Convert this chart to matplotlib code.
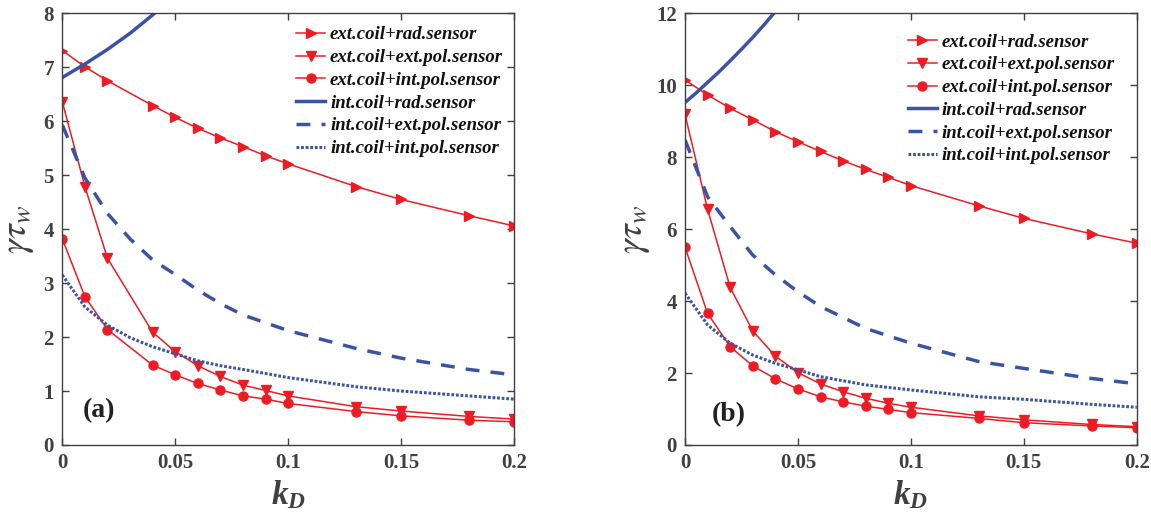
import numpy as np
import matplotlib
matplotlib.use("Agg")
import matplotlib.pyplot as plt

plt.rcParams['font.family'] = 'Liberation Serif'
plt.rcParams['mathtext.fontset'] = 'custom'
plt.rcParams['mathtext.rm'] = 'Liberation Serif:bold'
plt.rcParams['mathtext.it'] = 'Liberation Serif:italic:bold'
plt.rcParams['mathtext.bf'] = 'Liberation Serif:bold'

RED = '#ed1c24'
BLUE = '#3a53a4'
GRAY = '#404040'

labels = ['ext.coil+rad.sensor', 'ext.coil+ext.pol.sensor', 'ext.coil+int.pol.sensor',
          'int.coil+rad.sensor', 'int.coil+ext.pol.sensor', 'int.coil+int.pol.sensor']

# ---- panel (a) ----
kd_a = [0, 0.01, 0.02, 0.04, 0.05, 0.06, 0.07, 0.08, 0.09, 0.1, 0.13, 0.15, 0.18, 0.2]
ext_rad_a = [7.31, 7.01, 6.75, 6.29, 6.07, 5.87, 5.69, 5.53, 5.36, 5.21, 4.79, 4.55, 4.25, 4.06]
ext_ext_a = [6.36, 4.79, 3.46, 2.09, 1.73, 1.47, 1.27, 1.11, 1.01, 0.91, 0.71, 0.63, 0.53, 0.48]
ext_int_a = [3.82, 2.75, 2.14, 1.48, 1.30, 1.14, 1.02, 0.91, 0.85, 0.77, 0.62, 0.54, 0.46, 0.43]

kd_int_rad_a = [0, 0.01, 0.02, 0.03, 0.04, 0.05]
int_rad_a = [6.81, 7.06, 7.33, 7.63, 7.97, 8.35]

kd_int_a = [0, 0.01, 0.02, 0.03, 0.04, 0.05, 0.06, 0.07, 0.08, 0.1, 0.13, 0.15, 0.18, 0.2]
int_ext_a = [5.93, 4.95, 4.29, 3.82, 3.43, 3.16, 2.87, 2.62, 2.41, 2.12, 1.79, 1.61, 1.40, 1.30]
int_int_a = [3.15, 2.56, 2.22, 1.99, 1.82, 1.69, 1.56, 1.47, 1.40, 1.25, 1.08, 1.00, 0.91, 0.85]

# ---- panel (b) ----
kd_b = [0, 0.01, 0.02, 0.03, 0.04, 0.05, 0.06, 0.07, 0.08, 0.09, 0.1, 0.13, 0.15, 0.18, 0.2]
ext_rad_b = [10.15, 9.73, 9.36, 9.04, 8.71, 8.43, 8.16, 7.90, 7.66, 7.44, 7.21, 6.65, 6.30, 5.87, 5.61]
ext_ext_b = [9.19, 6.55, 4.38, 3.17, 2.47, 2.01, 1.70, 1.48, 1.30, 1.16, 1.05, 0.81, 0.70, 0.57, 0.51]
ext_int_b = [5.50, 3.66, 2.73, 2.20, 1.84, 1.56, 1.34, 1.20, 1.08, 0.99, 0.90, 0.74, 0.62, 0.53, 0.48]

kd_int_rad_b = [0, 0.005, 0.01, 0.015, 0.02, 0.025, 0.03, 0.035, 0.04]
int_rad_b = [9.52, 9.79, 10.08, 10.37, 10.68, 11.0, 11.33, 11.68, 12.05]

kd_int_b = [0, 0.01, 0.02, 0.03, 0.04, 0.05, 0.06, 0.08, 0.1, 0.13, 0.15, 0.18, 0.2]
int_ext_b = [8.48, 6.90, 6.07, 5.28, 4.73, 4.26, 3.85, 3.24, 2.83, 2.32, 2.13, 1.85, 1.70]
int_int_b = [4.22, 3.34, 2.83, 2.50, 2.27, 2.09, 1.90, 1.67, 1.53, 1.34, 1.27, 1.13, 1.05]

W, H = 1151, 516
fig = plt.figure(figsize=(W / 100, H / 100), dpi=100)


def make_axes(x0, x1, y0, y1):
    return fig.add_axes([x0 / W, 1 - y1 / H, (x1 - x0) / W, (y1 - y0) / H])


def draw(ax, kd, er, ee, ei, kr, ir, ki, ie, ii, ymax, ytick, tag, tagxy, legxy, ylab_x):
    ax.plot(kd, er, color=RED, lw=1.1, marker='>', ms=7.5, label=labels[0])
    ax.plot(kd, ee, color=RED, lw=1.1, marker='v', ms=7.5, label=labels[1])
    ax.plot(kd, ei, color=RED, lw=1.1, marker='o', ms=6.5, label=labels[2])
    ax.plot(kr, ir, color=BLUE, lw=2.5, label=labels[3])
    ax.plot(ki, ie, color=BLUE, lw=2.5, ls=(0, (4, 3.2)), label=labels[4])
    ax.plot(ki, ii, color=BLUE, lw=2.2, ls=(0, (0.9, 0.6)), label=labels[5])

    ax.set_xlim(0, 0.2)
    ax.set_ylim(0, ymax)
    ax.set_xticks([0, 0.05, 0.1, 0.15, 0.2])
    ax.set_xticklabels(['0', '0.05', '0.1', '0.15', '0.2'])
    ax.set_yticks(np.arange(0, ymax + 0.1, ytick))
    ax.tick_params(direction='in', top=True, right=True, length=5, width=1,
                   colors=GRAY, labelsize=15, pad=6)
    for lab in ax.get_xticklabels() + ax.get_yticklabels():
        lab.set_fontweight('bold')
        lab.set_color(GRAY)
    for s in ax.spines.values():
        s.set_color(GRAY)
        s.set_linewidth(1)

    ax.set_xlabel(r'$k_D$', fontsize=24, color=GRAY, labelpad=4)
    ax.set_ylabel(r'$\gamma\tau_{\mathit{w}}$', fontsize=27, color=GRAY,
                  math_fontfamily='stix')
    ax.yaxis.set_label_coords(ylab_x, 0.5)

    ax.text(tagxy[0], tagxy[1], tag, transform=ax.transAxes, fontsize=20,
            fontweight='bold', color='#222222', ha='left', va='center')

    leg = ax.legend(loc='upper left', bbox_to_anchor=legxy, frameon=False,
                    prop={'weight': 'bold', 'style': 'italic', 'size': 13.5},
                    handlelength=1.55, handletextpad=0.25, labelspacing=0.3,
                    borderaxespad=0, borderpad=0)
    for t in leg.get_texts():
        t.set_color('#111111')


ax_a = make_axes(62.3, 514, 13.3, 445)
draw(ax_a, kd_a, ext_rad_a, ext_ext_a, ext_int_a, kd_int_rad_a, int_rad_a,
     kd_int_a, int_ext_a, int_int_a, 8, 1, '(a)', (0.045, 0.08), (0.518, 0.97), -0.058)

ax_b = make_axes(685, 1136.7, 13.3, 445)
draw(ax_b, kd_b, ext_rad_b, ext_ext_b, ext_int_b, kd_int_rad_b, int_rad_b,
     kd_int_b, int_ext_b, int_int_b, 12, 2, '(b)', (0.06, 0.07), (0.493, 0.953), -0.073)

fig.savefig('out.png', dpi=100)
